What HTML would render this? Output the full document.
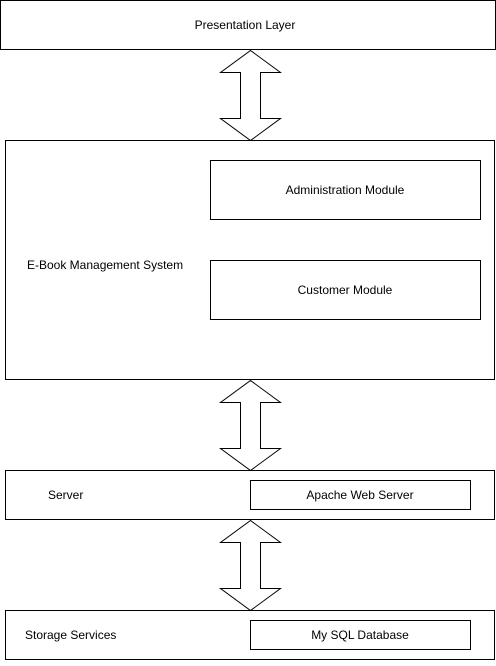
<!DOCTYPE html>
<html><head><style>
html,body{margin:0;padding:0;background:#fff;}
svg{display:block;}
text{font-family:"Liberation Sans",Arial,sans-serif;font-size:12px;fill:#000;}
</style></head><body>
<svg width="496" height="666" viewBox="0 0 496 666">
<g fill="#fff" stroke="#000" stroke-width="1">
<rect x="0.5" y="0.5" width="495" height="49"/>
<rect x="5.5" y="140.5" width="489" height="239"/>
<rect x="210.5" y="160.5" width="270" height="59"/>
<rect x="210.5" y="260.5" width="270" height="59"/>
<rect x="5.5" y="470.5" width="489" height="49"/>
<rect x="250.5" y="480.5" width="220" height="29"/>
<rect x="5.5" y="610.5" width="489" height="49"/>
<rect x="250.5" y="620.5" width="220" height="29"/>
<path d="M250.5 50.5 L280.5 72.5 L260.5 72.5 L260.5 118.5 L280.5 118.5 L250.5 140.5 L220.5 118.5 L240.5 118.5 L240.5 72.5 L220.5 72.5 Z"/>
<path d="M250.5 380.5 L280.5 402.5 L260.5 402.5 L260.5 448.5 L280.5 448.5 L250.5 470.5 L220.5 448.5 L240.5 448.5 L240.5 402.5 L220.5 402.5 Z"/>
<path d="M250.5 520.5 L280.5 542.5 L260.5 542.5 L260.5 588.5 L280.5 588.5 L250.5 610.5 L220.5 588.5 L240.5 588.5 L240.5 542.5 L220.5 542.5 Z"/>
</g>
<text x="245" y="29" text-anchor="middle">Presentation Layer</text>
<text x="345" y="194" text-anchor="middle">Administration Module</text>
<text x="345" y="294" text-anchor="middle">Customer Module</text>
<text x="27" y="269">E-Book Management System</text>
<text x="48" y="499">Server</text>
<text x="360" y="499" text-anchor="middle">Apache Web Server</text>
<text x="25" y="639">Storage Services</text>
<text x="360" y="639" text-anchor="middle">My SQL Database</text>
</svg>
</body></html>
